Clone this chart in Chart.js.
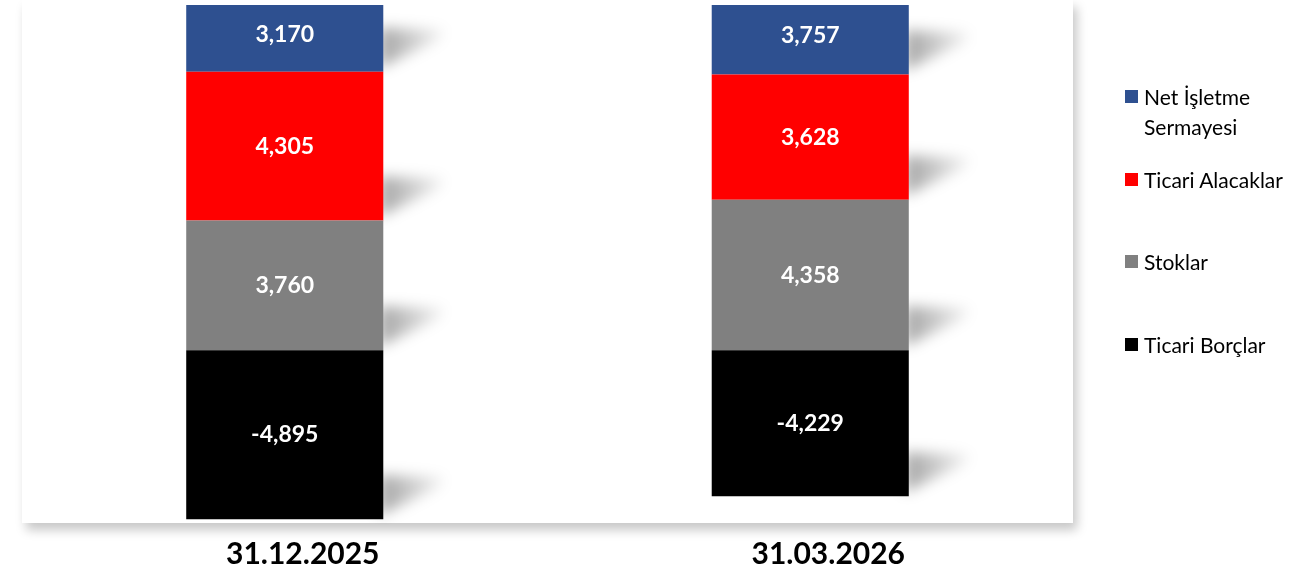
<!DOCTYPE html>
<html>
<head>
<meta charset="utf-8">
<script src="https://cdn.jsdelivr.net/npm/chart.js@4.4.1/dist/chart.umd.min.js"></script>
<style>
  body { margin: 0; background: #fff; font-family: Lato, sans-serif; }
  #wrap { position: relative; width: 1306px; height: 574px; }
  #legend { position: absolute; left: 1125px; top: 82px; }
  .item { position: relative; height: 82.5px; line-height: 30px; font-size: 21px; color: #000; }
  .item i { position: absolute; left: 0; top: 8px; width: 13px; height: 13px; }
  .item span { position: absolute; left: 19px; top: 0; width: 165px; }
</style>
</head>
<body>
<div id="wrap">
  <canvas id="bar-chart"></canvas>
  <div id="legend"></div>
</div>
<script>
const categories = ['31.12.2025', '31.03.2026'];
const seriesNames = ['Ticari Borçlar', 'Stoklar', 'Ticari Alacaklar', 'Net İşletme Sermayesi'];
const seriesColors = ['#000000', '#808080', '#FF0000', '#2E5090'];
const ticariBorclar = [-4895, -4229];
const stoklar = [3760, 4358];
const ticariAlacaklar = [4305, 3628];
const netIsletme = [3170, 3757];
const seriesValues = [ticariBorclar, stoklar, ticariAlacaklar, netIsletme];

// white plot panel with soft shadow
const panelPlugin = {
  id: 'panel',
  beforeDraw(chart) {
    const { ctx, chartArea } = chart;
    ctx.save();
    ctx.shadowColor = 'rgba(0,0,0,0.22)';
    ctx.shadowBlur = 10;
    ctx.shadowOffsetX = 4;
    ctx.shadowOffsetY = 7;
    ctx.fillStyle = '#fff';
    ctx.fillRect(chartArea.left, 0, chartArea.right - chartArea.left, chartArea.bottom);
    ctx.restore();
  }
};

// soft wedge shadows at the bottom edge of every segment
const wedgePlugin = {
  id: 'wedges',
  beforeDatasetsDraw(chart) {
    const { ctx, chartArea } = chart;
    ctx.save();
    ctx.filter = 'blur(7px)';
    chart.data.datasets.forEach((ds, i) => {
      chart.getDatasetMeta(i).data.forEach(bar => {
        const right = bar.x + bar.width / 2;
        const bottom = Math.min(Math.max(bar.y, bar.base), chartArea.bottom);
        const g = ctx.createLinearGradient(right, 0, right + 62, 0);
        g.addColorStop(0, 'rgba(0,0,0,0.34)');
        g.addColorStop(1, 'rgba(0,0,0,0.03)');
        ctx.fillStyle = g;
        ctx.beginPath();
        ctx.moveTo(right - 4, bottom - 44);
        ctx.lineTo(right + 62, bottom - 42);
        ctx.lineTo(right + 55, bottom - 32);
        ctx.lineTo(right - 4, bottom - 4);
        ctx.closePath();
        ctx.fill();
      });
    });
    ctx.restore();
  }
};

// white value labels, centred in the visible part of each segment
const valuePlugin = {
  id: 'values',
  afterDatasetsDraw(chart) {
    const { ctx, chartArea } = chart;
    ctx.save();
    ctx.font = 'bold 23px Lato';
    ctx.fillStyle = '#fff';
    ctx.textAlign = 'center';
    ctx.textBaseline = 'middle';
    chart.data.datasets.forEach((ds, i) => {
      chart.getDatasetMeta(i).data.forEach((bar, j) => {
        const top = Math.max(Math.min(bar.y, bar.base), chartArea.top);
        const bottom = Math.min(Math.max(bar.y, bar.base), chartArea.bottom);
        let y = (top + bottom) / 2;
        if (top === chartArea.top) y -= 4;
        ctx.fillText(ds.data[j].toLocaleString('en-US'), bar.x, y);
      });
    });
    ctx.restore();
  }
};

const datasets = seriesNames.map((name, i) => ({
  label: name,
  data: seriesValues[i],
  backgroundColor: seriesColors[i],
  borderWidth: 0
}));

let config = {
  type: 'bar',
  data: { labels: categories, datasets: datasets },
  options: {
    responsive: true,
    maintainAspectRatio: false,
    animation: false,
    layout: { padding: { left: 22, right: 233, top: 5, bottom: 3 } },
    plugins: { legend: { display: false }, tooltip: { enabled: false } },
    datasets: { bar: { categoryPercentage: 1, barPercentage: 0.375 } },
    scales: {
      x: {
        stacked: true,
        grid: { display: false },
        border: { display: false },
        afterFit(scale) { scale.height = 48; },
        ticks: {
          color: '#000',
          font: { family: 'Lato', size: 30, weight: 'bold' },
          padding: 5,
          labelOffset: 18
        }
      },
      y: {
        stacked: true,
        display: false,
        min: -5000,
        max: 10000
      }
    }
  },
  plugins: [panelPlugin, wedgePlugin, valuePlugin]
};

let ctx = document.getElementById('bar-chart').getContext('2d');
window.myBar = new Chart(ctx, config);

// legend, top series first
const legend = document.getElementById('legend');
for (let i = seriesNames.length - 1; i >= 0; i--) {
  const item = document.createElement('div');
  item.className = 'item';
  item.innerHTML = '<i style="background:' + seriesColors[i] + '"></i><span>' + seriesNames[i] + '</span>';
  legend.appendChild(item);
}
</script>
</body>
</html>
